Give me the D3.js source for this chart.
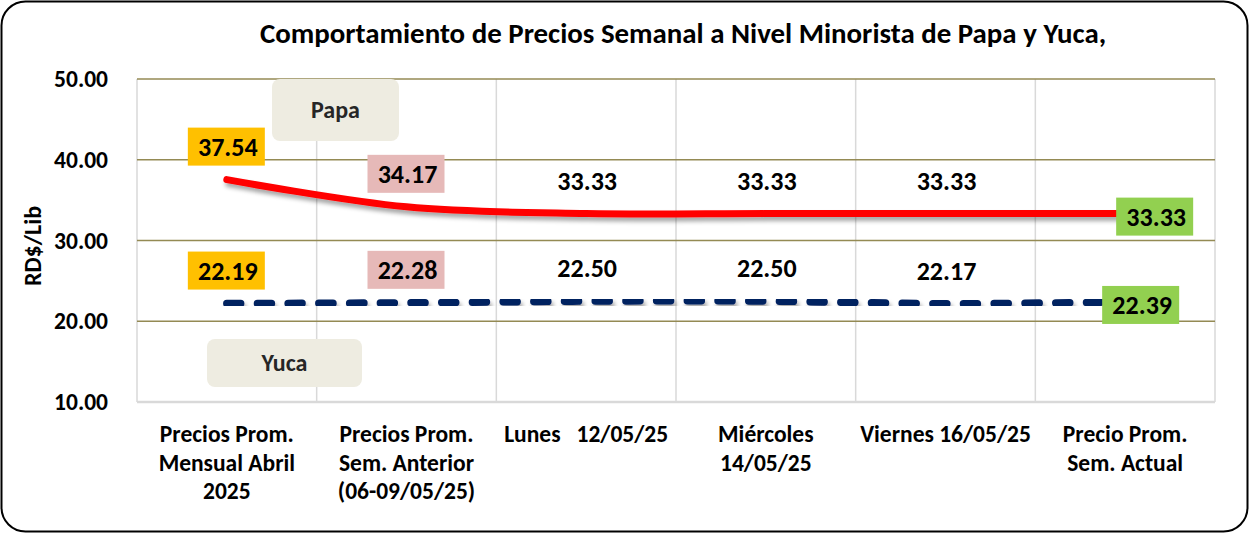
<!DOCTYPE html>
<html>
<head>
<meta charset="utf-8">
<script src="https://cdn.jsdelivr.net/npm/d3@7"></script>
<style>
  body { margin: 0; background: #fff; }
  svg { display: block; font-family: Carlito, Calibri, Lato, sans-serif; font-weight: bold; }
</style>
</head>
<body>
<div id="chart"></div>
<script>
// categories (x axis), one line per entry
const categories = [
    'Precios Prom.\nMensual Abril\n2025',
    'Precios Prom.\nSem. Anterior\n(06-09/05/25)',
    'Lunes   12/05/25',
    'Miércoles\n14/05/25',
    'Viernes 16/05/25',
    'Precio Prom.\nSem. Actual'
];
const papa = [37.54, 34.17, 33.33, 33.33, 33.33, 33.33];
const yuca = [22.19, 22.28, 22.50, 22.50, 22.17, 22.39];
const yTicks = [10, 20, 30, 40, 50];
const title = 'Comportamiento de Precios Semanal a Nivel Minorista de Papa y Yuca,';
const yTitle = 'RD$/Lib';

function priceChart() {
    let margin = {top: 79, left: 137, right: 34, bottom: 131},
        width = 1249,
        height = 533;

    // box colours of the data labels, by category
    const boxFill = ['#FFC000', '#E6B9B8', null, null, null, '#92D050'];

    function chart(selector) {
        let svg = d3.select(selector)
            .append('svg')
            .attr('width', width)
            .attr('height', height);

        let defs = svg.append('defs');
        defs.append('filter')
            .attr('id', 'shadow')
            .attr('x', '-10%').attr('y', '-50%')
            .attr('width', '120%').attr('height', '200%')
            .append('feDropShadow')
            .attr('dx', 2).attr('dy', 4)
            .attr('stdDeviation', 2)
            .attr('flood-color', '#000')
            .attr('flood-opacity', 0.35);

        // outer frame
        svg.append('rect')
            .attr('x', 1.5).attr('y', 1.5)
            .attr('width', width - 3).attr('height', height - 3)
            .attr('rx', 24)
            .attr('fill', '#fff')
            .attr('stroke', '#000')
            .attr('stroke-width', 2);

        let xScale = d3.scaleBand()
            .domain(categories)
            .range([margin.left, width - margin.right])
            .padding(0);

        let yScale = d3.scaleLinear()
            .domain([10, 50])
            .range([height - margin.bottom, margin.top]);

        let cx = d => xScale(d) + xScale.bandwidth() / 2;

        // vertical grid lines at band edges
        let edges = categories.map(c => xScale(c)).concat([width - margin.right]);
        svg.append('g')
            .selectAll('line')
            .data(edges).enter()
            .append('line')
            .attr('x1', d => d).attr('x2', d => d)
            .attr('y1', yScale(50)).attr('y2', yScale(10))
            .attr('stroke', '#D9D9D9')
            .attr('stroke-width', 1.5);

        // horizontal grid lines
        svg.append('g')
            .selectAll('line')
            .data(yTicks.filter(t => t > 10)).enter()
            .append('line')
            .attr('x1', margin.left).attr('x2', width - margin.right)
            .attr('y1', d => yScale(d)).attr('y2', d => yScale(d))
            .attr('stroke', '#948A54')
            .attr('stroke-width', 1.5);

        // x axis line
        svg.append('line')
            .attr('x1', margin.left).attr('x2', width - margin.right)
            .attr('y1', yScale(10)).attr('y2', yScale(10))
            .attr('stroke', '#D9D9D9')
            .attr('stroke-width', 2.5);

        // y tick labels
        svg.append('g')
            .selectAll('text')
            .data(yTicks).enter()
            .append('text')
            .attr('x', 108)
            .attr('y', d => yScale(d))
            .attr('dy', '0.35em')
            .attr('text-anchor', 'end')
            .style('font-size', '23.5px')
            .attr('fill', '#000')
            .text(d => d3.format('.2f')(d));

        // x labels
        let xl = svg.append('g')
            .selectAll('text')
            .data(categories).enter()
            .append('text')
            .attr('x', d => cx(d))
            .attr('y', 442)
            .attr('text-anchor', 'middle')
            .style('font-size', '23.5px')
            .style('white-space', 'pre')
            .attr('fill', '#000');
        xl.selectAll('tspan')
            .data(d => d.split('\n').map(s => ({s, x: cx(d)}))).enter()
            .append('tspan')
            .attr('x', d => d.x)
            .attr('dy', (d, i) => i ? 28.5 : 0)
            .text(d => d.s);

        // titles
        svg.append('text')
            .attr('x', 683).attr('y', 43)
            .attr('text-anchor', 'middle')
            .style('font-size', '28.9px')
            .attr('fill', '#000')
            .text(title);

        svg.append('text')
            .attr('transform', 'translate(41,246) rotate(-90)')
            .attr('text-anchor', 'middle')
            .style('font-size', '24px')
            .attr('fill', '#000')
            .text(yTitle);

        // legend boxes
        let legend = [
            {name: 'Papa', x: 272, y: 79, w: 127, h: 62},
            {name: 'Yuca', x: 207, y: 339, w: 155, h: 48}
        ];
        let lg = svg.append('g').selectAll('g').data(legend).enter().append('g');
        lg.append('rect')
            .attr('x', d => d.x).attr('y', d => d.y)
            .attr('width', d => d.w).attr('height', d => d.h)
            .attr('rx', 8)
            .attr('fill', '#EEECE1');
        lg.append('text')
            .attr('x', d => d.x + d.w / 2)
            .attr('y', d => d.y + d.h / 2)
            .attr('dy', '0.35em')
            .attr('text-anchor', 'middle')
            .style('font-size', '24px')
            .attr('fill', '#262626')
            .text(d => d.name);

        // lines
        let line = d3.line()
            .x((d, i) => cx(categories[i]))
            .y(d => yScale(d))
            .curve(d3.curveCatmullRom.alpha(0.5));

        svg.append('path')
            .datum(yuca)
            .attr('d', line)
            .attr('fill', 'none')
            .attr('stroke', '#002060')
            .attr('stroke-width', 7.5)
            .attr('stroke-linecap', 'round')
            .attr('stroke-dasharray', '14 16.7')
            .attr('filter', 'url(#shadow)');

        svg.append('path')
            .datum(papa)
            .attr('d', line)
            .attr('fill', 'none')
            .attr('stroke', '#FF0000')
            .attr('stroke-width', 7)
            .attr('stroke-linecap', 'round')
            .attr('filter', 'url(#shadow)');

        // data labels
        let lastDx = {papa: 29, yuca: 15};
        function labels(values, key) {
            let pts = values.map((v, i) => {
                let last = i === values.length - 1;
                return {
                    v: v,
                    fill: boxFill[i],
                    x: cx(categories[i]) + (last ? lastDx[key] : -1),
                    y: yScale(v) + (last ? 3 : -33)
                };
            });
            let g = svg.append('g').selectAll('g').data(pts).enter().append('g');
            g.filter(d => d.fill)
                .append('rect')
                .attr('x', d => d.x - 38).attr('y', d => d.y - 19)
                .attr('width', 77).attr('height', 38)
                .attr('fill', d => d.fill);
            g.append('text')
                .attr('x', d => d.x + 2)
                .attr('y', d => d.y)
                .attr('dy', '0.36em')
                .attr('text-anchor', 'middle')
                .style('font-size', '26px')
                .attr('fill', '#000')
                .text(d => d3.format('.2f')(d.v));
        }
        labels(papa, 'papa');
        labels(yuca, 'yuca');

        return chart;
    }

    return chart;
}

priceChart()('#chart');
</script>
</body>
</html>
